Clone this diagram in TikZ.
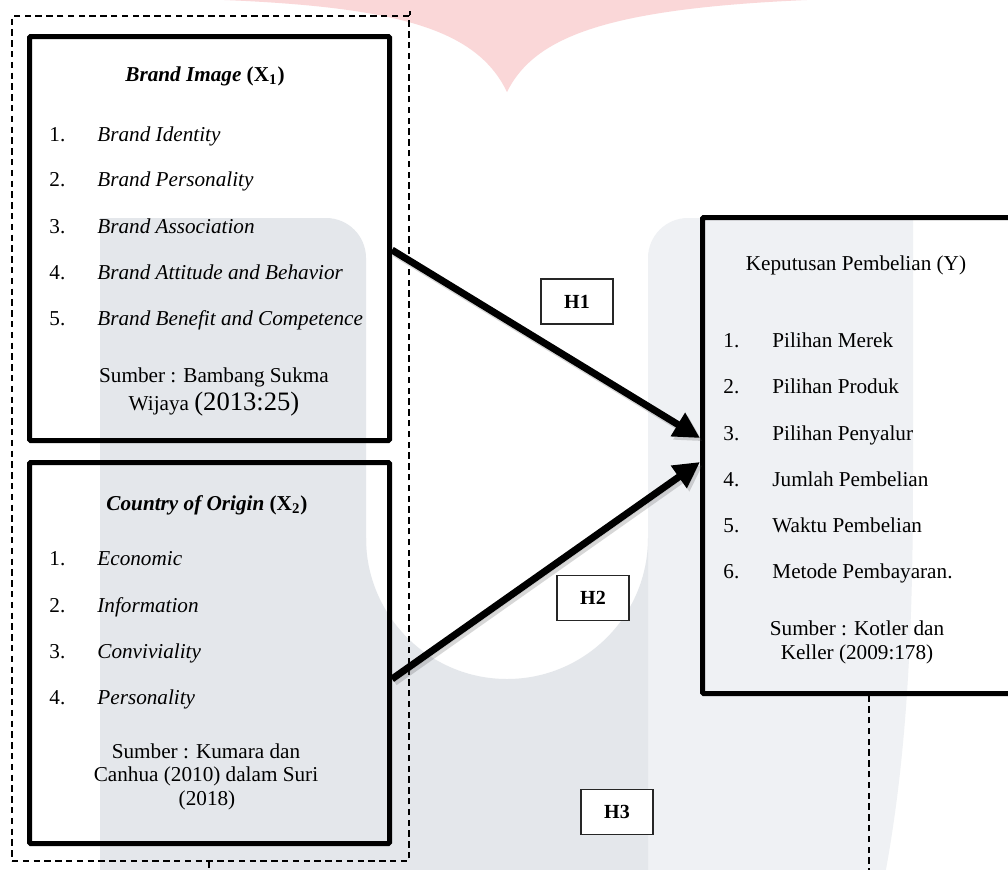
\documentclass[tikz,border=0pt]{standalone}
\usepackage{fontspec}
\setmainfont{Liberation Serif}
\usetikzlibrary{arrows.meta}
\definecolor{wmpink}{RGB}{250,215,216}
\definecolor{wmgray}{RGB}{228,231,235}
\definecolor{wmlight}{RGB}{239,241,244}
\tikzset{
  varbox/.style={draw=black, line width=2.5pt, inner sep=0pt, rounded corners=0.6pt},
  grpbox/.style={draw=black, line width=0.8pt, dash pattern=on 3.2pt off 2.2pt, inner sep=0pt},
  dashline/.style={draw=black, line width=0.8pt, dash pattern=on 3.2pt off 2.2pt},
  hbox/.style={draw=black!85, line width=0.7pt, fill=white, minimum width=36pt,
               minimum height=22.5pt, inner sep=0pt, font=\bfseries},
  txt/.style={inner sep=0pt, anchor=base},
  itm/.style={inner sep=0pt, anchor=base west},
  hyp/.style={draw=black, line width=3.5pt, -{Triangle[length=13pt,width=13pt]}},
  hypshadow/.style={hyp, draw=black!70, fill=black!70, opacity=0.22,
                    transform canvas={shift={(1.3pt,-1.6pt)}}},
}
\begin{document}
\begin{tikzpicture}[x=0.5pt,y=-0.5pt,
  every node/.style={font=\fontsize{10.6}{13}\selectfont}]
\clip (0,0) rectangle (1008,869);
\fill[white] (0,0) rectangle (1008,869);
% watermark
\fill[wmpink] (84,-3) .. controls (360,-1) and (470,15) .. (507,92)
   .. controls (540,25) and (640,-1) .. (938,-3) -- cycle;
\fill[wmlight] (648,900) [rounded corners=20pt] -- (648,218) [sharp corners] -- (913,218)
   -- (913,480) .. controls (913,650) and (905,780) .. (880,900) -- cycle;
\fill[wmgray] (100,900) -- (100,218) [rounded corners=20pt] -- (366,218) [sharp corners] -- (366,900) -- cycle;
\fill[wmgray] (365,538) -- (365,900) -- (648,900) -- (648,538)
   arc[start angle=0, end angle=-180, radius=70.5pt] -- cycle;

% group and boxes
\node[grpbox, minimum width=198.5pt, minimum height=422.5pt] (grp) at (210.5,438.5) {};
\node[varbox, minimum width=180pt, minimum height=202pt] (x1) at (209.5,238.5) {};
\node[varbox, minimum width=180pt, minimum height=190.5pt] (x2) at (209.5,653) {};
\node[varbox, minimum width=173.75pt, minimum height=238pt] (yb) at (876.25,455.5) {};

% X1 texts
\node[txt] (x1t) at (205,81) {\textbf{\textit{Brand Image}} \textbf{(X\textsubscript{1})}};
\node[itm] (x1n1) at (49,141) {1.};  \node[itm] (x1i1) at (97,141) {\textit{Brand Identity}};
\node[itm] (x1n2) at (49,186) {2.};  \node[itm] (x1i2) at (97,186) {\textit{Brand Personality}};
\node[itm] (x1n3) at (49,233) {3.};  \node[itm] (x1i3) at (97,233) {\textit{Brand Association}};
\node[itm] (x1n4) at (49,279) {4.};  \node[itm] (x1i4) at (97,279) {\textit{Brand Attitude and Behavior}};
\node[itm] (x1n5) at (49,325) {5.};  \node[itm] (x1i5) at (97,325) {\textit{Brand Benefit and Competence}};
\node[txt] (x1s1) at (214,382) {Sumber : Bambang Sukma};
\node[txt] (x1s2) at (214,410) {Wijaya {\fontsize{13.3}{15}\selectfont(2013:25)}};

% X2 texts
\node[txt] (x2t) at (207,510) {\textbf{\textit{Country of Origin}} \textbf{(X\textsubscript{2})}};
\node[itm] (x2n1) at (49,565) {1.};  \node[itm] (x2i1) at (97,565) {\textit{Economic}};
\node[itm] (x2n2) at (49,612) {2.};  \node[itm] (x2i2) at (97,612) {\textit{Information}};
\node[itm] (x2n3) at (49,658) {3.};  \node[itm] (x2i3) at (97,658) {\textit{Conviviality}};
\node[itm] (x2n4) at (49,704) {4.};  \node[itm] (x2i4) at (97,704) {\textit{Personality}};
\node[txt] (x2s1) at (206,758) {Sumber : Kumara dan};
\node[txt] (x2s2) at (206,781) {Canhua (2010) dalam Suri};
\node[txt] (x2s3) at (207,805) {(2018)};

% Y texts
\node[txt] (yt) at (856,270) {Keputusan Pembelian (Y)};
\node[itm] (yn1) at (723,347) {1.}; \node[itm] (yi1) at (772,347) {Pilihan Merek};
\node[itm] (yn2) at (723,393) {2.}; \node[itm] (yi2) at (772,393) {Pilihan Produk};
\node[itm] (yn3) at (723,440) {3.}; \node[itm] (yi3) at (772,440) {Pilihan Penyalur};
\node[itm] (yn4) at (723,486) {4.}; \node[itm] (yi4) at (772,486) {Jumlah Pembelian};
\node[itm] (yn5) at (723,532) {5.}; \node[itm] (yi5) at (772,532) {Waktu Pembelian};
\node[itm] (yn6) at (723,578) {6.}; \node[itm] (yi6) at (772,578) {Metode Pembayaran.};
\node[txt] (ys1) at (857,635) {Sumber : Kotler dan};
\node[txt] (ys2) at (857,659) {Keller (2009:178)};

% hypothesis arrows
\draw[hypshadow] (x1.east |- 0,250) -- (yb.west |- 0,438);
\draw[hypshadow] (x2.east |- 0,679) -- (yb.west |- 0,462);
\draw[hyp] (x1.east |- 0,250) -- (yb.west |- 0,438);
\draw[hyp] (x2.east |- 0,679) -- (yb.west |- 0,462);

% H3 dashed connector (runs out of the picture)
\draw[dashline] (grp.south -| 209,0) -- (209,900) -- (869,900) -- (yb.south -| 869,0);
\draw[dashline] (grp.north east) -- ++(0,-4);

% hypothesis labels
\node[hbox] (h1) at (577,301.5) {H1};
\node[hbox] (h2) at (593,598) {H2};
\node[hbox] (h3) at (617,812) {H3};
\end{tikzpicture}
\end{document}
